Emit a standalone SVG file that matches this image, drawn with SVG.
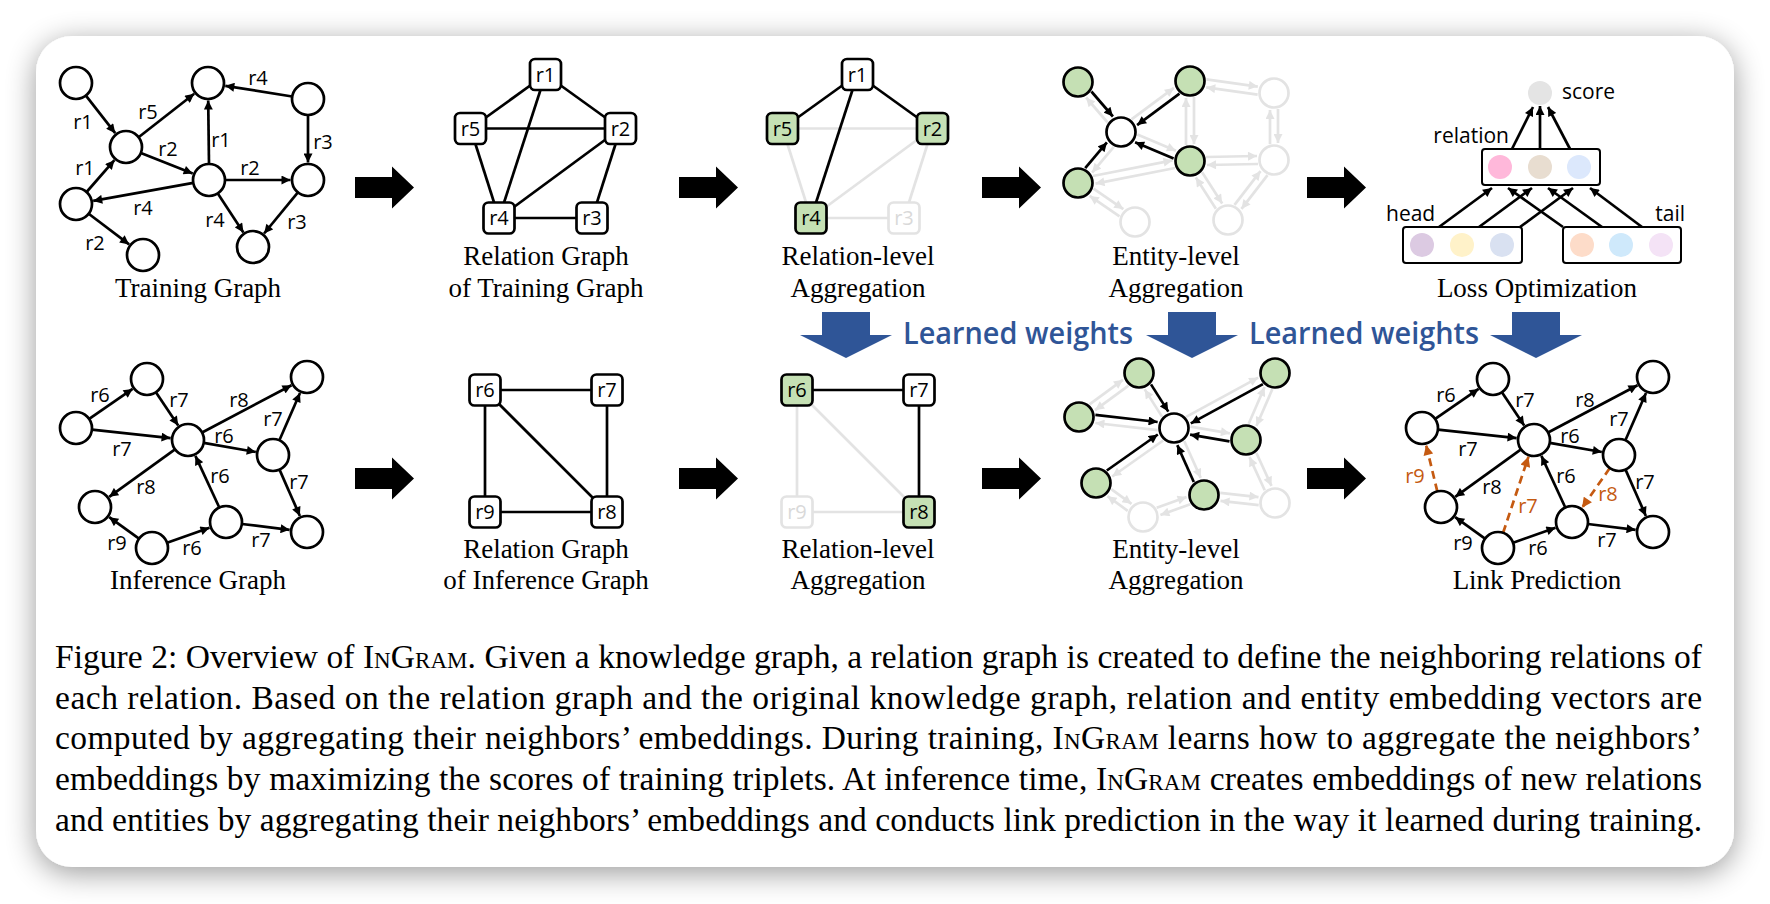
<svg xmlns="http://www.w3.org/2000/svg" width="1770" height="904" viewBox="0 0 1770 904">
<defs>
<filter id="sh" x="-10%" y="-10%" width="120%" height="130%">
<feGaussianBlur in="SourceAlpha" stdDeviation="15"/>
<feOffset dy="6"/>
<feComponentTransfer><feFuncA type="linear" slope="0.4"/></feComponentTransfer>
<feMerge><feMergeNode/><feMergeNode in="SourceGraphic"/></feMerge>
</filter>
<marker id="ah" viewBox="0 0 10 10" refX="10" refY="5" markerWidth="10" markerHeight="9" markerUnits="userSpaceOnUse" orient="auto"><path d="M0,0 L10,5 L0,10 z" fill="#000"/></marker>
<marker id="ahg" viewBox="0 0 10 10" refX="10" refY="5" markerWidth="10" markerHeight="9" markerUnits="userSpaceOnUse" orient="auto"><path d="M0,0 L10,5 L0,10 z" fill="#e3e3e3"/></marker>
<marker id="aho" viewBox="0 0 10 10" refX="10" refY="5" markerWidth="11" markerHeight="10" markerUnits="userSpaceOnUse" orient="auto"><path d="M0,0 L10,5 L0,10 z" fill="#c55a11"/></marker>
</defs>
<style>
.n{fill:#fff;stroke:#000;stroke-width:2.7}
.gr{fill:#c5e0b4;stroke:#000;stroke-width:2.7}
.fd{fill:#fff;stroke:#e3e3e3;stroke-width:2.7}
.e line{stroke:#000;stroke-width:2.7;marker-end:url(#ah)}
.eg line,line.eg{stroke:#e3e3e3;stroke-width:2.7;marker-end:url(#ahg)}
line.eb{stroke:#000;stroke-width:2.7;marker-end:url(#ah)}
.eo line{stroke:#c55a11;stroke-width:2.7;stroke-dasharray:8 5;marker-end:url(#aho)}
.rl line{stroke:#000;stroke-width:2.7}
.rl line.lg{stroke:#e3e3e3}
.l{font-family:"Open Sans","Noto Sans",sans-serif;font-size:20px;text-anchor:middle;fill:#000}
.lo{fill:#c55a11}
.lf{fill:#d9d9d9}
.cap{font-family:"Liberation Serif","Times New Roman",serif;font-size:27px;text-anchor:middle;fill:#000}
.tx{font-family:"Open Sans","Noto Sans",sans-serif;font-size:21px;fill:#000}
.bw{font-family:"Open Sans","Noto Sans",sans-serif;font-size:30px;font-weight:600;fill:#2f5597}
.para{font-family:"Liberation Serif","Times New Roman",serif;font-size:33.5px;fill:#000}
.sc{font-variant:small-caps}
.box{fill:#fff;stroke:#000;stroke-width:2}
</style>
<rect width="1770" height="904" fill="#ffffff"/>
<rect x="36" y="36" width="1698" height="831" rx="36" fill="#fff" filter="url(#sh)"/>

<!-- block arrows -->
<g id="block-arrows" fill="#000">
<polygon points="355,177 392,177 392,166.5 414,187.5 392,208.5 392,198 355,198"/>
<polygon points="679,177 716,177 716,166.5 738,187.5 716,208.5 716,198 679,198"/>
<polygon points="982,177 1019,177 1019,166.5 1041,187.5 1019,208.5 1019,198 982,198"/>
<polygon points="1307,177 1344,177 1344,166.5 1366,187.5 1344,208.5 1344,198 1307,198"/>
<polygon points="355,468 392,468 392,457.5 414,478.5 392,499.5 392,489 355,489"/>
<polygon points="679,468 716,468 716,457.5 738,478.5 716,499.5 716,489 679,489"/>
<polygon points="982,468 1019,468 1019,457.5 1041,478.5 1019,499.5 1019,489 982,489"/>
<polygon points="1307,468 1344,468 1344,457.5 1366,478.5 1344,499.5 1344,489 1307,489"/>
</g>

<!-- blue arrows -->
<g id="learned-weights" fill="#2f5597">
<polygon points="822,312 870,312 870,335 892,335 846,358 800,335 822,335"/>
<polygon points="1168,312 1216,312 1216,335 1238,335 1192,358 1146,335 1168,335"/>
<polygon points="1512,312 1560,312 1560,335 1582,335 1536,358 1490,335 1512,335"/>
<text class="bw" x="903" y="344" textLength="230" lengthAdjust="spacingAndGlyphs">Learned weights</text>
<text class="bw" x="1249" y="344" textLength="230" lengthAdjust="spacingAndGlyphs">Learned weights</text>
</g>

<!-- ===== Training Graph ===== -->
<g id="training-edges" class="e">
<line x1="85.9" y1="95.6" x2="115.2" y2="133.2"/>
<line x1="138.6" y1="137.2" x2="194.2" y2="93.8"/>
<line x1="292.2" y1="96.5" x2="225.3" y2="85.8"/>
<line x1="308" y1="115" x2="308" y2="162.5"/>
<line x1="209" y1="164" x2="208.2" y2="100.5"/>
<line x1="140.9" y1="152.9" x2="192.7" y2="173.5"/>
<line x1="86.6" y1="192" x2="114.4" y2="160.2"/>
<line x1="225" y1="180" x2="290.5" y2="180"/>
<line x1="193.3" y1="182.8" x2="93.2" y2="200.9"/>
<line x1="217.8" y1="193.4" x2="243.4" y2="232.4"/>
<line x1="297.9" y1="192.4" x2="264.1" y2="233.5"/>
<line x1="88.7" y1="213.7" x2="129.1" y2="244.4"/>
</g>
<g id="training-labels" class="l">
<text x="83" y="129">r1</text><text x="148" y="119">r5</text><text x="258" y="85">r4</text>
<text x="221" y="147">r1</text><text x="323" y="149">r3</text><text x="168" y="156">r2</text>
<text x="85" y="175">r1</text><text x="250" y="175">r2</text><text x="143" y="215">r4</text>
<text x="215" y="227">r4</text><text x="297" y="229">r3</text><text x="95" y="250">r2</text>
</g>
<g id="tA"><circle class="n" cx="76" cy="83" r="16"/></g>
<g id="tB"><circle class="n" cx="208" cy="83" r="16"/></g>
<g id="tC"><circle class="n" cx="308" cy="99" r="16"/></g>
<g id="tD"><circle class="n" cx="126" cy="147" r="16"/></g>
<g id="tE"><circle class="n" cx="209" cy="180" r="16"/></g>
<g id="tF"><circle class="n" cx="308" cy="180" r="16"/></g>
<g id="tG"><circle class="n" cx="76" cy="204" r="16"/></g>
<g id="tI"><circle class="n" cx="143" cy="255" r="16"/></g>
<g id="tH"><circle class="n" cx="253" cy="247" r="16"/></g>
<text class="cap" x="198" y="297">Training Graph</text>

<!-- ===== Relation Graph of Training Graph ===== -->
<g id="rg-train-edges" class="rl">
<line x1="545.5" y1="74.5" x2="470.5" y2="128.5"/>
<line x1="545.5" y1="74.5" x2="620.5" y2="128.5"/>
<line x1="545.5" y1="74.5" x2="499" y2="218"/>
<line x1="470.5" y1="128.5" x2="620.5" y2="128.5"/>
<line x1="470.5" y1="128.5" x2="499" y2="218"/>
<line x1="620.5" y1="128.5" x2="499" y2="218"/>
<line x1="620.5" y1="128.5" x2="592" y2="218"/>
<line x1="499" y1="218" x2="592" y2="218"/>
</g>
<g id="rgt-r1"><rect class="n" x="530" y="59" width="31" height="31" rx="5"/><text class="l" x="545.5" y="81.5">r1</text></g>
<g id="rgt-r5"><rect class="n" x="455" y="113" width="31" height="31" rx="5"/><text class="l" x="470.5" y="135.5">r5</text></g>
<g id="rgt-r2"><rect class="n" x="605" y="113" width="31" height="31" rx="5"/><text class="l" x="620.5" y="135.5">r2</text></g>
<g id="rgt-r4"><rect class="n" x="483.5" y="202.5" width="31" height="31" rx="5"/><text class="l" x="499" y="225">r4</text></g>
<g id="rgt-r3"><rect class="n" x="576.5" y="202.5" width="31" height="31" rx="5"/><text class="l" x="592" y="225">r3</text></g>
<text class="cap" x="546" y="265">Relation Graph</text>
<text class="cap" x="546" y="297">of Training Graph</text>

<!-- ===== Relation-level Aggregation (top) ===== -->
<g id="rla-top-edges" class="rl">
<line class="lg" x1="782.5" y1="128.5" x2="932.5" y2="128.5"/>
<line class="lg" x1="782.5" y1="128.5" x2="811" y2="218"/>
<line class="lg" x1="932.5" y1="128.5" x2="811" y2="218"/>
<line class="lg" x1="932.5" y1="128.5" x2="904" y2="218"/>
<line class="lg" x1="811" y1="218" x2="904" y2="218"/>
<line x1="857.5" y1="74.5" x2="782.5" y2="128.5"/>
<line x1="857.5" y1="74.5" x2="932.5" y2="128.5"/>
<line x1="857.5" y1="74.5" x2="811" y2="218"/>
</g>
<g id="rla-r1"><rect class="n" x="842" y="59" width="31" height="31" rx="5"/><text class="l" x="857.5" y="81.5">r1</text></g>
<g id="rla-r5"><rect class="gr" x="767" y="113" width="31" height="31" rx="5"/><text class="l" x="782.5" y="135.5">r5</text></g>
<g id="rla-r2"><rect class="gr" x="917" y="113" width="31" height="31" rx="5"/><text class="l" x="932.5" y="135.5">r2</text></g>
<g id="rla-r4"><rect class="gr" x="795.5" y="202.5" width="31" height="31" rx="5"/><text class="l" x="811" y="225">r4</text></g>
<g id="rla-r3"><rect class="fd" x="888.5" y="202.5" width="31" height="31" rx="5"/><text class="l lf" x="904" y="225">r3</text></g>
<text class="cap" x="858" y="265">Relation-level</text>
<text class="cap" x="858" y="297">Aggregation</text>

<!-- ===== Entity-level Aggregation (top) ===== -->
<g id="ela-top-edges">
<line class="eg" x1="1107.6" y1="122.5" x2="1086.1" y2="97.5"/>
<line class="eg" x1="1131.5" y1="119.3" x2="1173.9" y2="87.9"/>
<line class="eg" x1="1137.4" y1="134.5" x2="1175.9" y2="150.7"/>
<line class="eg" x1="1113.8" y1="146.8" x2="1092.1" y2="172.6"/>
<line class="eg" x1="1206.4" y1="79.3" x2="1257.8" y2="86.6"/>
<line class="eg" x1="1257.6" y1="94.7" x2="1206.2" y2="87.4"/>
<line class="eg" x1="1194" y1="97" x2="1194" y2="144"/>
<line class="eg" x1="1186" y1="145" x2="1186" y2="98"/>
<line class="eg" x1="1278" y1="109" x2="1278" y2="143"/>
<line class="eg" x1="1270" y1="144" x2="1270" y2="110"/>
<line class="eg" x1="1258" y1="164" x2="1207" y2="165"/>
<line class="eg" x1="1206" y1="157" x2="1257" y2="156"/>
<line class="eg" x1="1175.1" y1="168" x2="1095.5" y2="183.6"/>
<line class="eg" x1="1092.9" y1="176" x2="1172.5" y2="160.4"/>
<line class="eg" x1="1202.1" y1="172.2" x2="1222.2" y2="203.5"/>
<line class="eg" x1="1215.9" y1="208.8" x2="1195.8" y2="177.5"/>
<line class="eg" x1="1267.5" y1="175.1" x2="1241.5" y2="208.9"/>
<line class="eg" x1="1234.5" y1="204.9" x2="1260.5" y2="171.1"/>
<line class="eg" x1="1093.5" y1="188.7" x2="1123.3" y2="209.1"/>
<line class="eg" x1="1119.5" y1="216.3" x2="1089.7" y2="195.9"/>
<line class="eb" x1="1091.4" y1="91.5" x2="1112.9" y2="116.5"/>
<line class="eb" x1="1179.5" y1="93.7" x2="1137.1" y2="125.1"/>
<line class="eb" x1="1173.6" y1="158.5" x2="1135.1" y2="142.3"/>
<line class="eb" x1="1085.2" y1="168.2" x2="1106.9" y2="142.4"/>
</g>
<g id="et-G1"><circle class="gr" cx="1078" cy="82" r="14.5"/></g>
<g id="et-G2"><circle class="gr" cx="1190" cy="81" r="14.5"/></g>
<g id="et-C"><circle class="n" cx="1121" cy="132" r="14.5"/></g>
<g id="et-G3"><circle class="gr" cx="1190" cy="161" r="14.5"/></g>
<g id="et-G4"><circle class="gr" cx="1078" cy="183" r="14.5"/></g>
<g id="et-F1"><circle class="fd" cx="1274" cy="93" r="14.5"/></g>
<g id="et-F2"><circle class="fd" cx="1274" cy="160" r="14.5"/></g>
<g id="et-F3"><circle class="fd" cx="1228" cy="220" r="14.5"/></g>
<g id="et-F4"><circle class="fd" cx="1135" cy="222" r="14.5"/></g>
<text class="cap" x="1176" y="265">Entity-level</text>
<text class="cap" x="1176" y="297">Aggregation</text>

<!-- ===== Loss Optimization ===== -->
<g id="loss-edges" class="e">
<line x1="1512" y1="149" x2="1533" y2="107"/>
<line x1="1540" y1="149" x2="1540" y2="106"/>
<line x1="1570" y1="149" x2="1548" y2="107"/>
<line x1="1439" y1="227" x2="1492" y2="188"/>
<line x1="1479" y1="227" x2="1532" y2="188"/>
<line x1="1520" y1="227" x2="1573" y2="188"/>
<line x1="1563" y1="227" x2="1508" y2="188"/>
<line x1="1602" y1="227" x2="1548" y2="188"/>
<line x1="1642" y1="227" x2="1590" y2="188"/>
</g>
<g id="score"><circle cx="1540" cy="93" r="12" fill="#e4e4e4"/><text class="tx" x="1562" y="99">score</text></g>
<g id="relation-vec"><rect class="box" x="1482" y="149" width="118" height="36" rx="3"/>
<circle cx="1500" cy="167" r="12" fill="#ffb8da"/><circle cx="1540" cy="167" r="12" fill="#e8ddd0"/><circle cx="1579" cy="167" r="12" fill="#dce8fc"/>
<text class="tx" x="1509" y="143" text-anchor="end">relation</text></g>
<g id="head-vec"><rect class="box" x="1403" y="227" width="119" height="36" rx="3"/>
<circle cx="1422" cy="245" r="12" fill="#dccae2"/><circle cx="1462" cy="245" r="12" fill="#fff2c9"/><circle cx="1502" cy="245" r="12" fill="#d9e1f1"/>
<text class="tx" x="1386" y="221">head</text></g>
<g id="tail-vec"><rect class="box" x="1563" y="227" width="118" height="36" rx="3"/>
<circle cx="1582" cy="245" r="12" fill="#fddcc9"/><circle cx="1621" cy="245" r="12" fill="#cfe9fb"/><circle cx="1661" cy="245" r="12" fill="#f4e3f6"/>
<text class="tx" x="1685" y="221" text-anchor="end">tail</text></g>
<text class="cap" x="1537" y="297">Loss Optimization</text>

<!-- ===== Inference Graph ===== -->
<g id="inference-edges" class="e">
<line x1="89.2" y1="418.9" x2="132.6" y2="388.9"/>
<line x1="155.9" y1="392.3" x2="178.2" y2="425.5"/>
<line x1="91.9" y1="429.7" x2="170.6" y2="438.1"/>
<line x1="202.1" y1="432.5" x2="291.5" y2="385.2"/>
<line x1="203.8" y1="442.8" x2="255.8" y2="452"/>
<line x1="279.4" y1="440.3" x2="300" y2="393"/>
<line x1="175" y1="449.4" x2="109.2" y2="496.8"/>
<line x1="219.3" y1="507.5" x2="195.4" y2="455.9"/>
<line x1="279.5" y1="469.6" x2="299.9" y2="516"/>
<line x1="139" y1="538.7" x2="109.2" y2="517.2"/>
<line x1="167.1" y1="542.7" x2="209.5" y2="527.8"/>
<line x1="241.9" y1="524" x2="289.6" y2="529.8"/>
</g>
<g id="inference-labels" class="l">
<text x="100" y="402">r6</text><text x="179" y="407">r7</text><text x="239" y="407">r8</text>
<text x="122" y="456">r7</text><text x="224" y="443">r6</text><text x="273" y="426">r7</text>
<text x="146" y="494">r8</text><text x="220" y="483">r6</text><text x="299" y="489">r7</text>
<text x="117" y="550">r9</text><text x="192" y="555">r6</text><text x="261" y="547">r7</text>
</g>
<g id="iP1"><circle class="n" cx="147" cy="379" r="16"/></g>
<g id="iP2"><circle class="n" cx="307" cy="377" r="16"/></g>
<g id="iP3"><circle class="n" cx="76" cy="428" r="16"/></g>
<g id="iP4"><circle class="n" cx="188" cy="440" r="16"/></g>
<g id="iP5"><circle class="n" cx="273" cy="455" r="16"/></g>
<g id="iP6"><circle class="n" cx="95" cy="507" r="16"/></g>
<g id="iP7"><circle class="n" cx="226" cy="522" r="16"/></g>
<g id="iP8"><circle class="n" cx="307" cy="532" r="16"/></g>
<g id="iP9"><circle class="n" cx="152" cy="548" r="16"/></g>
<text class="cap" x="198" y="589">Inference Graph</text>

<!-- ===== Relation Graph of Inference Graph ===== -->
<g id="rg-inf-edges" class="rl">
<line x1="485" y1="390" x2="607" y2="390"/>
<line x1="485" y1="390" x2="485" y2="512"/>
<line x1="485" y1="390" x2="607" y2="512"/>
<line x1="607" y1="390" x2="607" y2="512"/>
<line x1="485" y1="512" x2="607" y2="512"/>
</g>
<g id="rgi-r6"><rect class="n" x="469.5" y="374.5" width="31" height="31" rx="5"/><text class="l" x="485" y="397">r6</text></g>
<g id="rgi-r7"><rect class="n" x="591.5" y="374.5" width="31" height="31" rx="5"/><text class="l" x="607" y="397">r7</text></g>
<g id="rgi-r9"><rect class="n" x="469.5" y="496.5" width="31" height="31" rx="5"/><text class="l" x="485" y="519">r9</text></g>
<g id="rgi-r8"><rect class="n" x="591.5" y="496.5" width="31" height="31" rx="5"/><text class="l" x="607" y="519">r8</text></g>
<text class="cap" x="546" y="558">Relation Graph</text>
<text class="cap" x="546" y="589">of Inference Graph</text>

<!-- ===== Relation-level Aggregation (bottom) ===== -->
<g id="rla-bot-edges" class="rl">
<line class="lg" x1="797" y1="390" x2="797" y2="512"/>
<line class="lg" x1="797" y1="390" x2="919" y2="512"/>
<line class="lg" x1="797" y1="512" x2="919" y2="512"/>
<line x1="797" y1="390" x2="919" y2="390"/>
<line x1="919" y1="390" x2="919" y2="512"/>
</g>
<g id="rlb-r6"><rect class="gr" x="781.5" y="374.5" width="31" height="31" rx="5"/><text class="l" x="797" y="397">r6</text></g>
<g id="rlb-r7"><rect class="n" x="903.5" y="374.5" width="31" height="31" rx="5"/><text class="l" x="919" y="397">r7</text></g>
<g id="rlb-r9"><rect class="fd" x="781.5" y="496.5" width="31" height="31" rx="5"/><text class="l lf" x="797" y="519">r9</text></g>
<g id="rlb-r8"><rect class="gr" x="903.5" y="496.5" width="31" height="31" rx="5"/><text class="l" x="919" y="519">r8</text></g>
<text class="cap" x="858" y="558">Relation-level</text>
<text class="cap" x="858" y="589">Aggregation</text>

<!-- ===== Entity-level Aggregation (bottom) ===== -->
<g id="ela-bot-edges">
<line class="eg" x1="1162" y1="416.6" x2="1144.7" y2="389.4"/>
<line class="eg" x1="1186.1" y1="416.9" x2="1258.2" y2="377.6"/>
<line class="eg" x1="1157.6" y1="430.2" x2="1095.4" y2="423"/>
<line class="eg" x1="1190.5" y1="426.7" x2="1229.9" y2="433.3"/>
<line class="eg" x1="1163.2" y1="440.5" x2="1112.2" y2="476.5"/>
<line class="eg" x1="1184.2" y1="441" x2="1200.7" y2="477.9"/>
<line class="eg" x1="1089.5" y1="404.3" x2="1122.9" y2="379.8"/>
<line class="eg" x1="1128.5" y1="385.7" x2="1095.1" y2="410.2"/>
<line class="eg" x1="1272.3" y1="389.3" x2="1256.4" y2="426"/>
<line class="eg" x1="1248.7" y1="423.7" x2="1264.6" y2="387"/>
<line class="eg" x1="1256.3" y1="452.8" x2="1271.5" y2="485.9"/>
<line class="eg" x1="1264.7" y1="490.2" x2="1249.5" y2="457.1"/>
<line class="eg" x1="1111.3" y1="489.2" x2="1131.5" y2="503.8"/>
<line class="eg" x1="1127.7" y1="510.8" x2="1107.5" y2="496.2"/>
<line class="eg" x1="1156.7" y1="507.8" x2="1186.6" y2="497"/>
<line class="eg" x1="1190.3" y1="504.2" x2="1160.4" y2="515"/>
<line class="eg" x1="1220.3" y1="492.8" x2="1258.5" y2="497.1"/>
<line class="eg" x1="1258.7" y1="505.2" x2="1220.5" y2="500.9"/>
<line class="eb" x1="1151" y1="384.4" x2="1168.3" y2="411.6"/>
<line class="eb" x1="1262.9" y1="384.1" x2="1190.8" y2="423.4"/>
<line class="eb" x1="1095.4" y1="414.8" x2="1157.6" y2="422"/>
<line class="eb" x1="1229.5" y1="441.3" x2="1190.1" y2="434.7"/>
<line class="eb" x1="1106.8" y1="470.5" x2="1157.8" y2="434.5"/>
<line class="eb" x1="1193.8" y1="482" x2="1177.3" y2="445.1"/>
</g>
<g id="eb-N1"><circle class="gr" cx="1139" cy="373" r="14.5"/></g>
<g id="eb-N2"><circle class="gr" cx="1275" cy="373" r="14.5"/></g>
<g id="eb-N3"><circle class="gr" cx="1079" cy="417" r="14.5"/></g>
<g id="eb-C"><circle class="n" cx="1174" cy="428" r="14.5"/></g>
<g id="eb-N4"><circle class="gr" cx="1246" cy="440" r="14.5"/></g>
<g id="eb-N5"><circle class="gr" cx="1096" cy="483" r="14.5"/></g>
<g id="eb-N6"><circle class="gr" cx="1204" cy="495" r="14.5"/></g>
<g id="eb-F1"><circle class="fd" cx="1143" cy="517" r="14.5"/></g>
<g id="eb-F2"><circle class="fd" cx="1275" cy="503" r="14.5"/></g>
<text class="cap" x="1176" y="558">Entity-level</text>
<text class="cap" x="1176" y="589">Aggregation</text>

<!-- ===== Link Prediction ===== -->
<g id="link-prediction" transform="translate(1346,0)">
<g id="link-edges" class="e">
<line x1="89.2" y1="418.9" x2="132.6" y2="388.9"/>
<line x1="155.9" y1="392.3" x2="178.2" y2="425.5"/>
<line x1="91.9" y1="429.7" x2="170.6" y2="438.1"/>
<line x1="202.1" y1="432.5" x2="291.5" y2="385.2"/>
<line x1="203.8" y1="442.8" x2="255.8" y2="452"/>
<line x1="279.4" y1="440.3" x2="300" y2="393"/>
<line x1="175" y1="449.4" x2="109.2" y2="496.8"/>
<line x1="219.3" y1="507.5" x2="195.4" y2="455.9"/>
<line x1="279.5" y1="469.6" x2="299.9" y2="516"/>
<line x1="139" y1="538.7" x2="109.2" y2="517.2"/>
<line x1="167.1" y1="542.7" x2="209.5" y2="527.8"/>
<line x1="241.9" y1="524" x2="289.6" y2="529.8"/>
</g>
<g id="link-predicted" class="eo">
<line x1="91.3" y1="491.4" x2="80.1" y2="445"/>
<line x1="157.1" y1="532.8" x2="182.5" y2="456.6"/>
<line x1="263.8" y1="468.1" x2="236.1" y2="507.7"/>
</g>
<g id="link-labels" class="l">
<text x="100" y="402">r6</text><text x="179" y="407">r7</text><text x="239" y="407">r8</text>
<text x="122" y="456">r7</text><text x="224" y="443">r6</text><text x="273" y="426">r7</text>
<text x="146" y="494">r8</text><text x="220" y="483">r6</text><text x="299" y="489">r7</text>
<text x="117" y="550">r9</text><text x="192" y="555">r6</text><text x="261" y="547">r7</text>
<text class="lo" x="69" y="483">r9</text><text class="lo" x="182" y="513">r7</text><text class="lo" x="262" y="501">r8</text>
</g>
<g id="lL1"><circle class="n" cx="147" cy="379" r="16"/></g>
<g id="lL2"><circle class="n" cx="307" cy="377" r="16"/></g>
<g id="lL3"><circle class="n" cx="76" cy="428" r="16"/></g>
<g id="lL4"><circle class="n" cx="188" cy="440" r="16"/></g>
<g id="lL5"><circle class="n" cx="273" cy="455" r="16"/></g>
<g id="lL6"><circle class="n" cx="95" cy="507" r="16"/></g>
<g id="lL7"><circle class="n" cx="226" cy="522" r="16"/></g>
<g id="lL8"><circle class="n" cx="307" cy="532" r="16"/></g>
<g id="lL9"><circle class="n" cx="152" cy="548" r="16"/></g>
</g>
<text class="cap" x="1537" y="589">Link Prediction</text>

<!-- ===== Figure caption ===== -->
<g id="caption" class="para">
<text x="55" y="668" textLength="1647" lengthAdjust="spacing">Figure 2: Overview of <tspan class="sc">InGram</tspan>. Given a knowledge graph, a relation graph is created to define the neighboring relations of</text>
<text x="55" y="709" textLength="1647" lengthAdjust="spacing">each relation.  Based on the relation graph and the original knowledge graph, relation and entity embedding vectors are</text>
<text x="55" y="749" textLength="1647" lengthAdjust="spacing">computed by aggregating their neighbors’ embeddings. During training, <tspan class="sc">InGram</tspan> learns how to aggregate the neighbors’</text>
<text x="55" y="790" textLength="1647" lengthAdjust="spacing">embeddings by maximizing the scores of training triplets. At inference time, <tspan class="sc">InGram</tspan> creates embeddings of new relations</text>
<text x="55" y="831" textLength="1647" lengthAdjust="spacing">and entities by aggregating their neighbors’ embeddings and conducts link prediction in the way it learned during training.</text>
</g>
</svg>
